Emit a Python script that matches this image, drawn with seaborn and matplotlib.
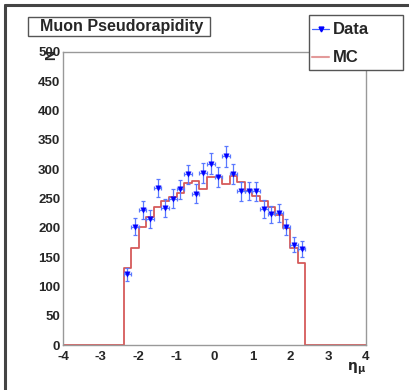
import numpy as np
import pandas as pd
import matplotlib
matplotlib.use("Agg")
import matplotlib.pyplot as plt
from matplotlib.lines import Line2D
from matplotlib.patches import Rectangle
from matplotlib.ticker import MultipleLocator
import seaborn as sns

# ---- data ----
bin_lo = -2.4
bin_width = 0.2
eta_centers = [-2.3, -2.1, -1.9, -1.7, -1.5, -1.3, -1.1, -0.9, -0.7, -0.5, -0.3, -0.1,
               0.1, 0.3, 0.5, 0.7, 0.9, 1.1, 1.3, 1.5, 1.7, 1.9, 2.1, 2.3]
data_counts = [121, 202, 230, 215, 268, 234, 250, 266, 291, 258, 293, 309,
               286, 322, 292, 262, 263, 262, 232, 223, 225, 201, 171, 164]
data_errors = [11, 14, 15, 15, 16, 15, 16, 16, 17, 16, 17, 18,
               17, 18, 17, 16, 16, 16, 15, 15, 15, 14, 13, 13]
mc_counts = [131, 166, 201, 218, 235, 246, 252, 260, 276, 280, 267, 287,
             287, 275, 288, 279, 263, 254, 245, 236, 222, 199, 165, 140]
x_range = (-4, 4)
y_range = (0, 500)
title_text = "Muon Pseudorapidity"
legend_labels = ["Data", "MC"]

sns.set_style("white")
plt.rcParams['font.family'] = ['Liberation Sans', 'DejaVu Sans']
plt.rcParams['font.weight'] = 'bold'
plt.rcParams['axes.unicode_minus'] = False

W, H = 409, 390
fig = plt.figure(figsize=(W / 100, H / 100), dpi=100)
ax = fig.add_axes([63/W, 1 - 345/H, (366 - 63)/W, (345 - 52)/H])

def fx(px):
    return px / W

def fy(py):
    return 1 - py / H

# MC histogram (padded with empty bins out to the axis range)
edges = [x_range[0]] + [bin_lo + i * bin_width for i in range(len(mc_counts) + 1)] + [x_range[1]]
mc_df = pd.DataFrame({
    "eta": [x_range[0] + 0.01] + eta_centers + [x_range[1] - 0.01],
    "w": [0] + mc_counts + [0],
})
mc_color = "#d65a5a"
sns.histplot(data=mc_df, x="eta", weights="w", bins=edges, element="step",
             fill=False, color=mc_color, linewidth=1.3, ax=ax, zorder=2)

# Data points with error bars
data_color = "#0000ff"
ax.errorbar(eta_centers, data_counts, yerr=data_errors, xerr=bin_width / 2,
            fmt="none", ecolor="#5a78ff", elinewidth=0.9, capsize=1.5,
            capthick=0.9, zorder=3)
df = pd.DataFrame({"eta": eta_centers, "n": data_counts})
sns.scatterplot(data=df, x="eta", y="n", marker="v", color=data_color, s=15,
                edgecolor=data_color, linewidth=0.3, ax=ax, zorder=4)

ax.set_xlim(*x_range)
ax.set_ylim(*y_range)
ax.xaxis.set_major_locator(MultipleLocator(1))
ax.xaxis.set_minor_locator(MultipleLocator(0.2))
ax.yaxis.set_major_locator(MultipleLocator(50))
ax.yaxis.set_minor_locator(MultipleLocator(10))
ax.tick_params(which="major", direction="in", length=8, width=0.9, color="#888888",
               labelsize=9.5, top=False, right=False)
ax.tick_params(axis="x", which="major", pad=4)
ax.tick_params(axis="y", which="major", pad=2)
ax.tick_params(which="minor", direction="in", length=4, width=0.9, color="#888888",
               top=False, right=False)
for lab in ax.get_xticklabels() + ax.get_yticklabels():
    lab.set_fontweight("bold")
for sp in ax.spines.values():
    sp.set_color("#999999")
    sp.set_linewidth(1.0)
ax.set_xlabel("")
ax.set_ylabel("")
fig.text(fx(366), fy(369), r"$\mathrm{\eta_{\mu}}$", ha="right", va="center", fontsize=10)
fig.text(fx(51), fy(55), "N", rotation=90, ha="center", va="center",
         fontsize=10, fontweight="bold")

# Title box
fig.add_artist(Rectangle((fx(28), fy(36)), fx(210) - fx(28), fy(17) - fy(36),
                         transform=fig.transFigure, fc="white", ec="#555555", lw=1.0))
fig.text(fx(122), fy(26.5), title_text, ha="center", va="center", fontsize=11.5,
         fontweight="bold")

# Legend (drawn as a box with handles and labels)
fig.add_artist(Rectangle((fx(309), fy(70)), fx(403) - fx(309), fy(15) - fy(70),
                         transform=fig.transFigure, fc="white", ec="#555555", lw=1.0))
fig.add_artist(Line2D([fx(312), fx(329)], [fy(29), fy(29)], transform=fig.transFigure,
                      color="#4060ff", lw=0.9))
fig.add_artist(Line2D([fx(320.5)], [fy(29)], transform=fig.transFigure,
                      color=data_color, marker="v", markersize=3.5, lw=0))
fig.add_artist(Line2D([fx(312), fx(329)], [fy(57), fy(57)], transform=fig.transFigure,
                      color="#e39a9a", lw=1.5))
fig.text(fx(333), fy(29), legend_labels[0], ha="left", va="center", fontsize=12,
         fontweight="bold")
fig.text(fx(333), fy(57), legend_labels[1], ha="left", va="center", fontsize=12,
         fontweight="bold")

# canvas border (top and left)
fig.add_artist(Line2D([fx(4.5), fx(4.5)], [0, fy(4.5)], transform=fig.transFigure,
                      color="#444444", lw=2.2))
fig.add_artist(Line2D([fx(4.5), 1], [fy(4.5), fy(4.5)], transform=fig.transFigure,
                      color="#444444", lw=2.2))

fig.savefig("out.png", dpi=100)
